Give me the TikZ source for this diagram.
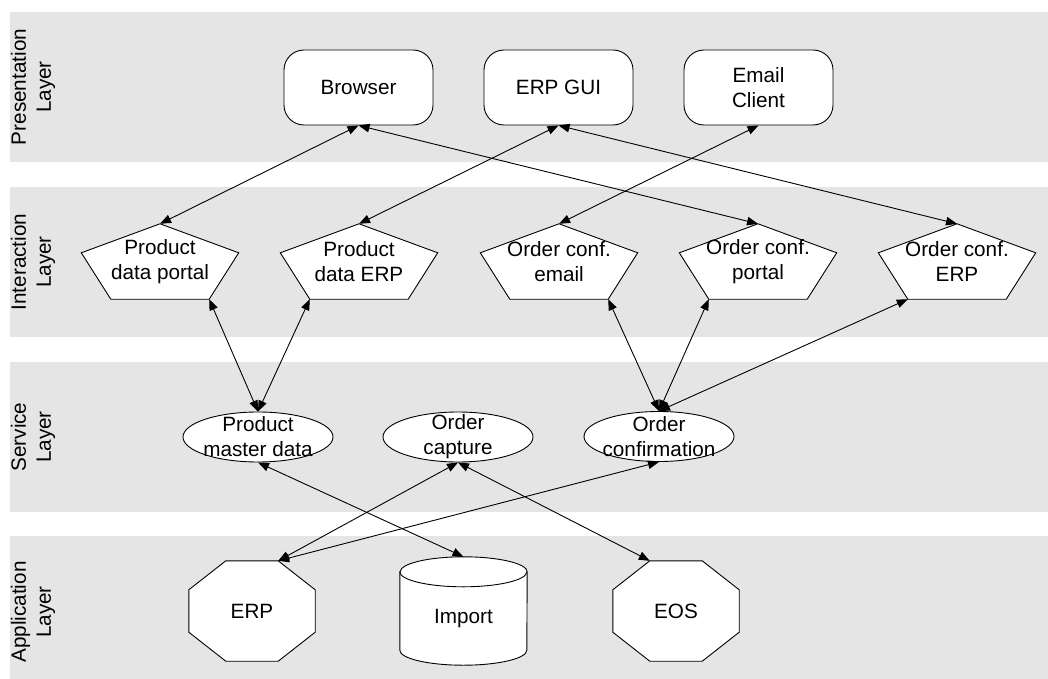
\documentclass[tikz,border=0pt]{standalone}
\usepackage{fontspec}
\setmainfont{Liberation Sans}
\usetikzlibrary{arrows.meta,shapes.geometric,calc}
\pgfdeclarelayer{bands}
\pgfdeclarelayer{outlines}
\pgfsetlayers{bands,outlines,main}
\definecolor{bandgray}{RGB}{229,229,229}

\begin{document}
\begin{tikzpicture}[x=1pt,y=-1pt,
  every node/.style={font=\fontsize{20.7}{25}\selectfont, align=center, inner sep=0pt},
  band/.style={fill=bandgray, draw=none},
  layerlabel/.style={rotate=90},
  client/.style={draw, fill=white, line width=0.9pt, rounded corners=20pt, minimum width=149pt, minimum height=75pt},
  service/.style={draw, fill=white, line width=0.9pt, ellipse, minimum width=150pt, minimum height=50pt},
  pentbox/.style={minimum width=157pt, minimum height=75pt},
  octbox/.style={minimum width=126pt, minimum height=100pt},
  cylbox/.style={minimum width=127pt, minimum height=108pt},
  outline/.style={draw=black, fill=white, line width=0.9pt},
  link/.style={line width=0.9pt, {Triangle[length=11pt,width=8.5pt]}-{Triangle[length=11pt,width=8.5pt]}},
]
\useasboundingbox (0,0) rectangle (1048,679);

% layer bands
\begin{pgfonlayer}{bands}
  \fill[band] (10,12)  rectangle (1048,162);
  \fill[band] (10,187) rectangle (1048,337);
  \fill[band] (10,362) rectangle (1048,512);
  \fill[band] (10,536) rectangle (1048,679);
\end{pgfonlayer}

% layer captions
\node[layerlabel] (lpres) at (33,87)  {Presentation\\Layer};
\node[layerlabel] (linter) at (33,262) {Interaction\\Layer};
\node[layerlabel] (lserv) at (33,437) {Service\\Layer};
\node[layerlabel] (lappl) at (33,612) {Application\\Layer};

% presentation layer
\node[client] (browser) at (358.5,87.5) {Browser};
\node[client] (erpgui)  at (558.5,87.5) {ERP GUI};
\node[client] (email)   at (758.5,87.5) {Email\\Client};

% interaction layer (pentagons)
\node[pentbox] (pdp) at (160,261.5) {Product\\data portal};
\node[pentbox] (pde) at (359,261.5) {Product\\data ERP};
\node[pentbox] (oem) at (559,261.5) {Order conf.\\email};
\node[pentbox] (opo) at (758,261.5) {Order conf.\\portal};
\node[pentbox] (oer) at (957,261.5) {Order conf.\\ERP};

\begin{pgfonlayer}{outlines}
  \foreach \n in {pdp,pde,oem,opo,oer}{
    \coordinate (\n-br) at ($(\n.south east)+(-29.5,0)$);
    \coordinate (\n-bl) at ($(\n.south west)+(29.5,0)$);
    \draw[outline] (\n.north) -- ($(\n.north east)+(0,29)$) -- (\n-br)
      -- (\n-bl) -- ($(\n.north west)+(0,29)$) -- cycle;
  }
\end{pgfonlayer}

% service layer
\node[service] (pmd)  at (258,437)   {};
\node[service] (ocap) at (458,437)   {};
\node[service] (ocf)  at (659,436.5) {};
\node (pmdtext)  at (pmd)  {Product\\master data};
\node (ocaptext) at (ocap) {Order\\capture};
\node (ocftext)  at (ocf)  {Order\\confirmation};

% application layer
\node[octbox] (erp) at (252,611)   {ERP};
\node[octbox] (eos) at (676,611)   {EOS};
\node[cylbox] (imp) at (463.5,611) {};
\node (imptext) at ($(imp)+(0,8)$) {Import};

\begin{pgfonlayer}{outlines}
  \foreach \n in {erp,eos}{
    \coordinate (\n-tl) at ($(\n.north west)+(37,0)$);
    \coordinate (\n-tr) at ($(\n.north east)+(-37,0)$);
    \draw[outline] (\n-tl) -- (\n-tr) -- ($(\n.north east)+(0,29)$)
      -- ($(\n.south east)+(0,-29)$) -- ($(\n.south east)+(-37,0)$)
      -- ($(\n.south west)+(37,0)$) -- ($(\n.south west)+(0,-29)$)
      -- ($(\n.north west)+(0,29)$) -- cycle;
  }
  % cylinder body and top rim
  \draw[outline] ($(imp.north west)+(0,15)$) -- ($(imp.south west)+(0,-15)$)
    arc[start angle=180, end angle=0, x radius=63.5, y radius=15]
    -- ($(imp.north east)+(0,15)$)
    arc[start angle=0, end angle=-180, x radius=63.5, y radius=15] -- cycle;
  \draw[line width=0.9pt] ($(imp.north west)+(0,15)$)
    arc[start angle=180, end angle=0, x radius=63.5, y radius=15];
\end{pgfonlayer}

% connectors
\draw[link] (browser.south) -- (pdp.north);
\draw[link] (browser.south) -- (opo.north);
\draw[link] (erpgui.south) -- (pde.north);
\draw[link] (erpgui.south) -- (oer.north);
\draw[link] (email.south) -- (oem.north);

\draw[link] (pdp-br) -- (pmd.north);
\draw[link] (pde-bl) -- (pmd.north);
\draw[link] (oem-br) -- (ocf.north);
\draw[link] (opo-bl) -- (ocf.north);
\draw[link] (oer-bl) -- (ocf.north);

\draw[link] (pmd.south) -- (imp.north);
\draw[link] (ocap.south) -- (erp-tr);
\draw[link] (ocap.south) -- (eos-tl);
\draw[link] (ocf.south) -- (erp-tr);
\end{tikzpicture}
\end{document}
